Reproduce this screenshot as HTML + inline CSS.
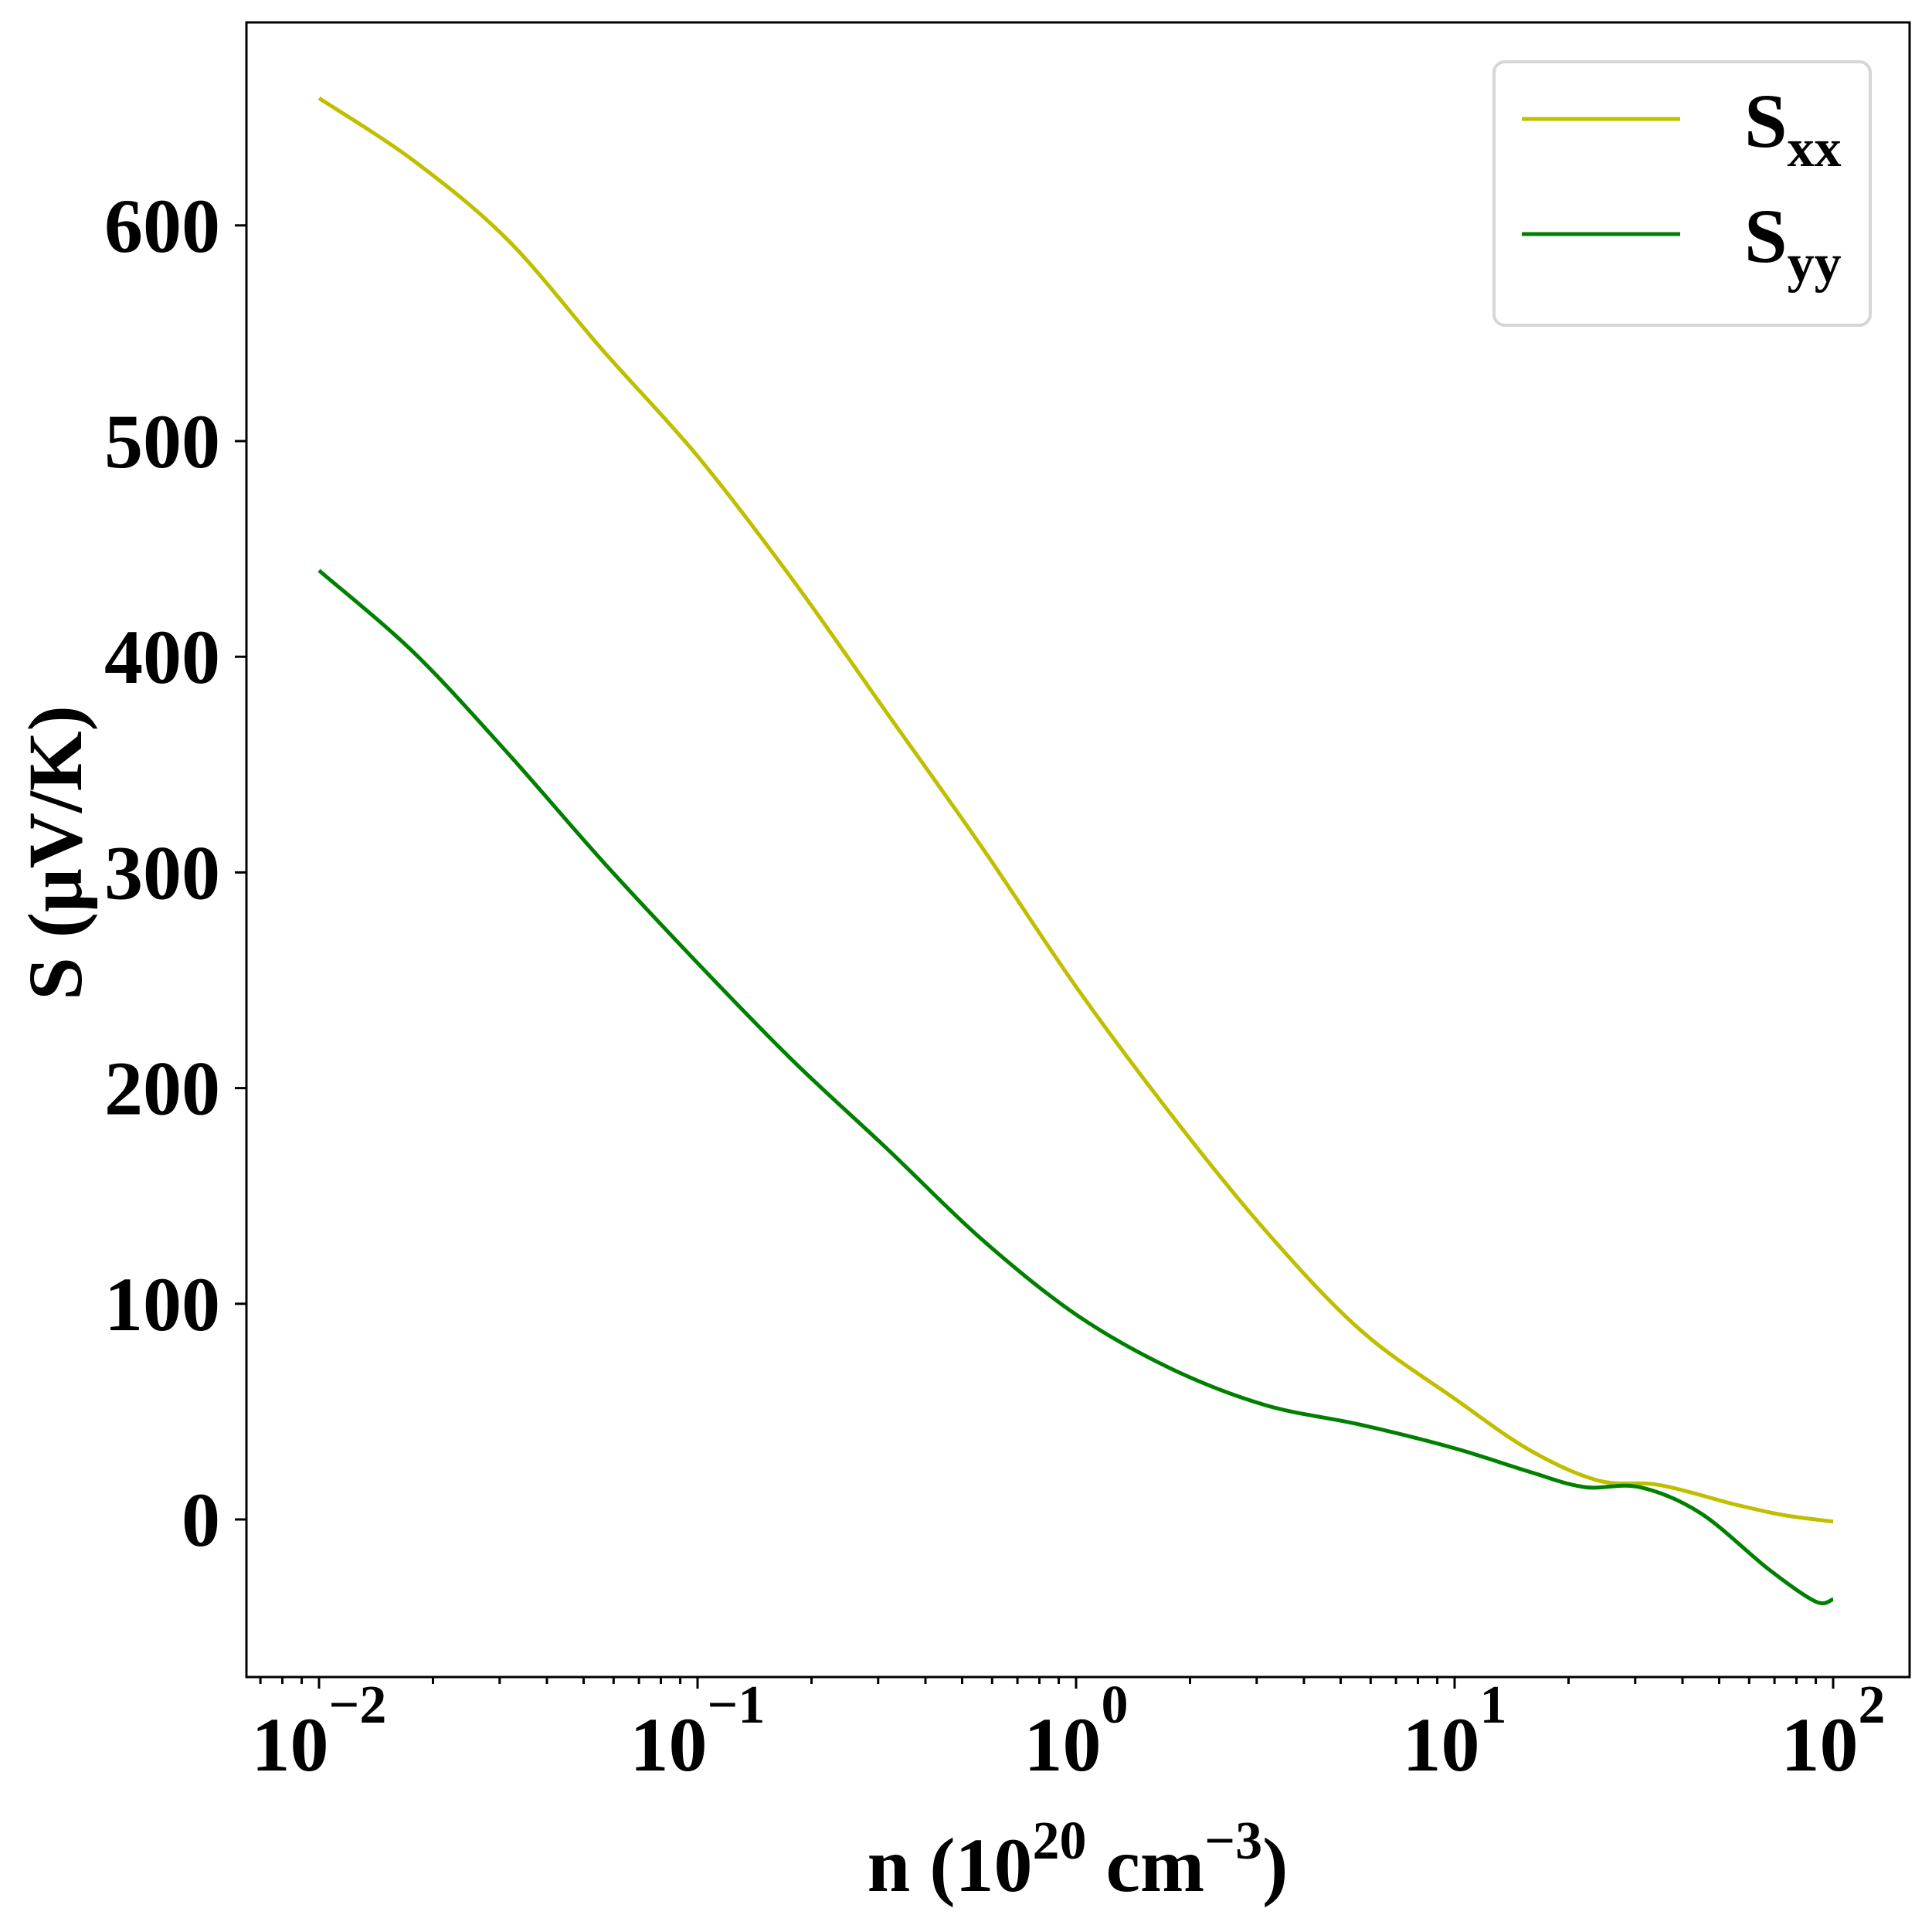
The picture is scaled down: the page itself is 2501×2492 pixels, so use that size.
<!DOCTYPE html>
<html><head><meta charset="utf-8"><style>
html,body{margin:0;padding:0;background:#fff}
svg{display:block}
text{font-family:"Liberation Serif","Times New Roman",serif;font-weight:bold;fill:#000}
</style></head><body>
<svg id="chart" width="2501" height="2492" viewBox="0 0 2501 2492" xmlns="http://www.w3.org/2000/svg">
<rect x="0" y="0" width="2501" height="2492" fill="#fff"/>
<g id="plot"></g>
<g id="axes"></g>
<text x="1395" y="2448" font-size="100" text-anchor="middle">n (10<tspan font-size="70" dy="-42">20</tspan><tspan dy="42"> cm</tspan><tspan font-size="70" dy="-42">−3</tspan><tspan dy="42">)</tspan></text>
<text transform="translate(105,1104) rotate(-90)" font-size="100" text-anchor="middle">S (μV/K)</text>
<g>
<rect x="1934" y="80" width="487" height="341" rx="14" ry="14" fill="#fff" stroke="#d6d6d6" stroke-width="4"/>
<line x1="1970" y1="154" x2="2175" y2="154" stroke="#bfbf00" stroke-width="5"/>
<text x="2258" y="190" font-size="100">S<tspan font-size="70" dy="25">xx</tspan></text>
<line x1="1970" y1="303" x2="2175" y2="303" stroke="#008000" stroke-width="5"/>
<text x="2258" y="339" font-size="100">S<tspan font-size="70" dy="25">yy</tspan></text>
</g>
</svg>
<script>
// data (x in log10 of n / 1e20 cm^-3, values in µV/K)
const sxxLogN = [-2.0,-1.75,-1.5,-1.25,-1.0,-0.75,-0.5,-0.25,0.0,0.25,0.5,0.75,1.0,1.2,1.38,1.54,1.74,1.87,2.0];
const sxxVals = [659,630,593,542,493,436,374,312,247,188,134,88,56,32,18,16,7,2,-1];
const syyLogN = [-2.0,-1.75,-1.5,-1.25,-1.0,-0.75,-0.5,-0.25,0.0,0.25,0.5,0.75,1.0,1.2,1.343,1.488,1.649,1.829,1.953,2.0];
const syyVals = [440,402,355,305,258,213,172,130,95,70,53,44,33,22,15,15,3,-23,-38,-37];
const yTicks = [0,100,200,300,400,500,600];
const xTickExps = [-2,-1,0,1,2];
const xTickLabels = ["−2","−1","0","1","2"];

const L=319,R=2472,T=29,B=2171;
const x0=413, dec=490;
function xs(lg){return x0+(lg+2)*dec;}
function ys(v){return 1967-v*2.792;}
const NS="http://www.w3.org/2000/svg";
const plot=document.getElementById('plot'), axes=document.getElementById('axes');

function pathFrom(lx,vals){
  const p=lx.map((l,i)=>[xs(l),ys(vals[i])]);
  let d="M"+p[0][0].toFixed(1)+","+p[0][1].toFixed(1);
  for(let i=0;i<p.length-1;i++){
    const a=p[i-1]||p[i],b=p[i],c=p[i+1],e=p[i+2]||c;
    const c1=[b[0]+(c[0]-a[0])/6,b[1]+(c[1]-a[1])/6];
    const c2=[c[0]-(e[0]-b[0])/6,c[1]-(e[1]-b[1])/6];
    d+=" C"+c1[0].toFixed(1)+","+c1[1].toFixed(1)+" "+c2[0].toFixed(1)+","+c2[1].toFixed(1)+" "+c[0].toFixed(1)+","+c[1].toFixed(1);
  }
  return d;
}
let el=document.createElementNS(NS,'path');
el.setAttribute('d',pathFrom(sxxLogN,sxxVals));
el.setAttribute('fill','none');el.setAttribute('stroke','#bfbf00');el.setAttribute('stroke-width','5');


plot.appendChild(el);
el=document.createElementNS(NS,'path');
el.setAttribute('d',pathFrom(syyLogN,syyVals));
el.setAttribute('fill','none');el.setAttribute('stroke','#008000');el.setAttribute('stroke-width','5');


plot.appendChild(el);

el=document.createElementNS(NS,'rect');
el.setAttribute('x',L);el.setAttribute('y',T);el.setAttribute('width',R-L);el.setAttribute('height',B-T);
el.setAttribute('fill','none');el.setAttribute('stroke','#000');el.setAttribute('stroke-width','3');


axes.appendChild(el);

function line(x1,y1,x2,y2,name){
  const l=document.createElementNS(NS,'line');
  l.setAttribute('x1',x1);l.setAttribute('y1',y1);l.setAttribute('x2',x2);l.setAttribute('y2',y2);
  l.setAttribute('stroke','#000');l.setAttribute('stroke-width','3');
  
  
  axes.appendChild(l);
}
yTicks.forEach(v=>{
  const y=ys(v);
  line(L-15,y,L,y,'y-tick');
  const t=document.createElementNS(NS,'text');
  t.setAttribute('x',285);t.setAttribute('y',y+34);t.setAttribute('font-size','100');t.setAttribute('text-anchor','end');
  t.textContent=v;
  
  
  axes.appendChild(t);
});
xTickExps.forEach((e,i)=>{
  const x=xs(e);
  line(x,B,x,B+15,'x-major-tick');
  const t=document.createElementNS(NS,'text');
  t.setAttribute('x',x);t.setAttribute('y',2292);t.setAttribute('font-size','100');t.setAttribute('text-anchor','middle');
  t.innerHTML='10<tspan font-size="70" dy="-62">'+xTickLabels[i]+'</tspan>';
  
  
  axes.appendChild(t);
});
for(let e=-3;e<=2;e++){
  for(let m=2;m<=9;m++){
    const x=xs(e+Math.log10(m));
    if(x>L&&x<R) line(x,B,x,B+9,'x-minor-tick');
  }
}
</script>
</body></html>
